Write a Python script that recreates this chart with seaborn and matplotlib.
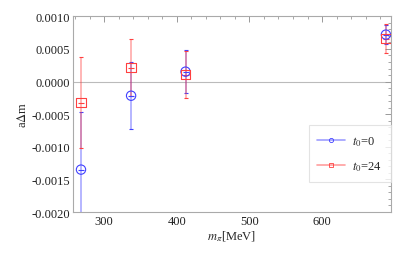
import numpy as np
import pandas as pd
import matplotlib
matplotlib.use("Agg")
import matplotlib.pyplot as plt
import seaborn as sns
from matplotlib.ticker import MultipleLocator, FormatStrFormatter
from matplotlib.lines import Line2D

# Data
m_pi = [268, 337, 412, 688]
dm_t0 = [-0.00135, -0.000217, 0.000152, 0.00072]
err_t0 = [0.00089, 0.00051, 0.00033, 0.00014]
dm_t24 = [-0.000323, 0.000215, 0.000105, 0.00066]
err_t24 = [0.00070, 0.00044, 0.00036, 0.00022]
labels = ["$t_0$=0", "$t_0$=24"]

sns.set_style("white")
plt.rcParams['font.family'] = ['Liberation Serif', 'DejaVu Serif']
plt.rcParams['mathtext.fontset'] = 'stix'

df = pd.DataFrame({
    "m": m_pi + m_pi,
    "dm": dm_t0 + dm_t24,
    "err": err_t0 + err_t24,
    "series": [labels[0]] * 4 + [labels[1]] * 4,
})

fig = plt.figure(figsize=(4.09, 2.55), dpi=100)
ax = fig.add_axes([0.1785, 0.1647, 0.7775, 0.7673])

blue = (0.25, 0.25, 1.0)
red = (1.0, 0.25, 0.25)
palette = {labels[0]: blue, labels[1]: red}
markers = {labels[0]: "o", labels[1]: "s"}

ax.axhline(0, color="#bbbbbb", lw=0.8, zorder=0)

for lab in labels:
    sub = df[df.series == lab]
    c = palette[lab]
    ax.errorbar(sub.m, sub.dm, yerr=sub.err, fmt="none", ecolor=c + (0.45,),
                elinewidth=1.2, capsize=0, zorder=1)
    ax.errorbar(sub.m, sub.dm, yerr=sub.err, fmt="none", ecolor=c,
                elinewidth=0, capsize=1.5, capthick=0.8, zorder=1)
    ax.scatter(sub.m, sub.dm, marker="_", s=25, color=c, lw=0.8, zorder=3)

sns.scatterplot(data=df, x="m", y="dm", hue="series", style="series",
                palette=palette, markers=markers, ax=ax, s=45,
                legend=False, zorder=4)
coll = ax.collections[-1]
ec = [palette[s] for s in df.series]
coll.set_facecolor("none")
coll.set_edgecolor(ec)
coll.set_linewidth(0.8)

ax.set_xlim(257, 695)
ax.set_ylim(-0.002, 0.001)
ax.xaxis.set_major_locator(MultipleLocator(100))
ax.xaxis.set_minor_locator(MultipleLocator(20))
ax.yaxis.set_major_locator(MultipleLocator(0.0005))
ax.yaxis.set_minor_locator(MultipleLocator(0.0001))
ax.yaxis.set_major_formatter(FormatStrFormatter("%.4f"))
ax.tick_params(axis="both", which="both", direction="in", top=True, right=True,
               color="#999999", labelsize=9, pad=2, labelcolor="#222222")
ax.tick_params(which="major", length=4, width=0.7)
ax.tick_params(which="minor", length=2, width=0.6)
for s in ax.spines.values():
    s.set_color("#aaaaaa")
    s.set_linewidth(0.8)

ax.set_xlabel("$m_\\pi$[MeV]", fontsize=9, labelpad=1)
ax.set_ylabel("a$\\Delta$m", fontsize=9, labelpad=2)

handles = [Line2D([], [], color=blue + (0.5,), lw=1.2, marker="o", ms=3,
                  mfc="none", mec=blue, mew=0.6),
           Line2D([], [], color=red + (0.5,), lw=1.2, marker="s", ms=3,
                  mfc="none", mec=red, mew=0.6)]
leg = ax.legend(handles, labels, loc="lower right", bbox_to_anchor=(1.0, 0.155),
                fontsize=9, frameon=True, fancybox=False, handlelength=2.2,
                borderpad=0.7, labelspacing=0.9, handletextpad=0.6,
                borderaxespad=0)
leg.get_frame().set_edgecolor("#dddddd")
leg.get_frame().set_linewidth(0.8)

fig.savefig("out.png", dpi=100)
